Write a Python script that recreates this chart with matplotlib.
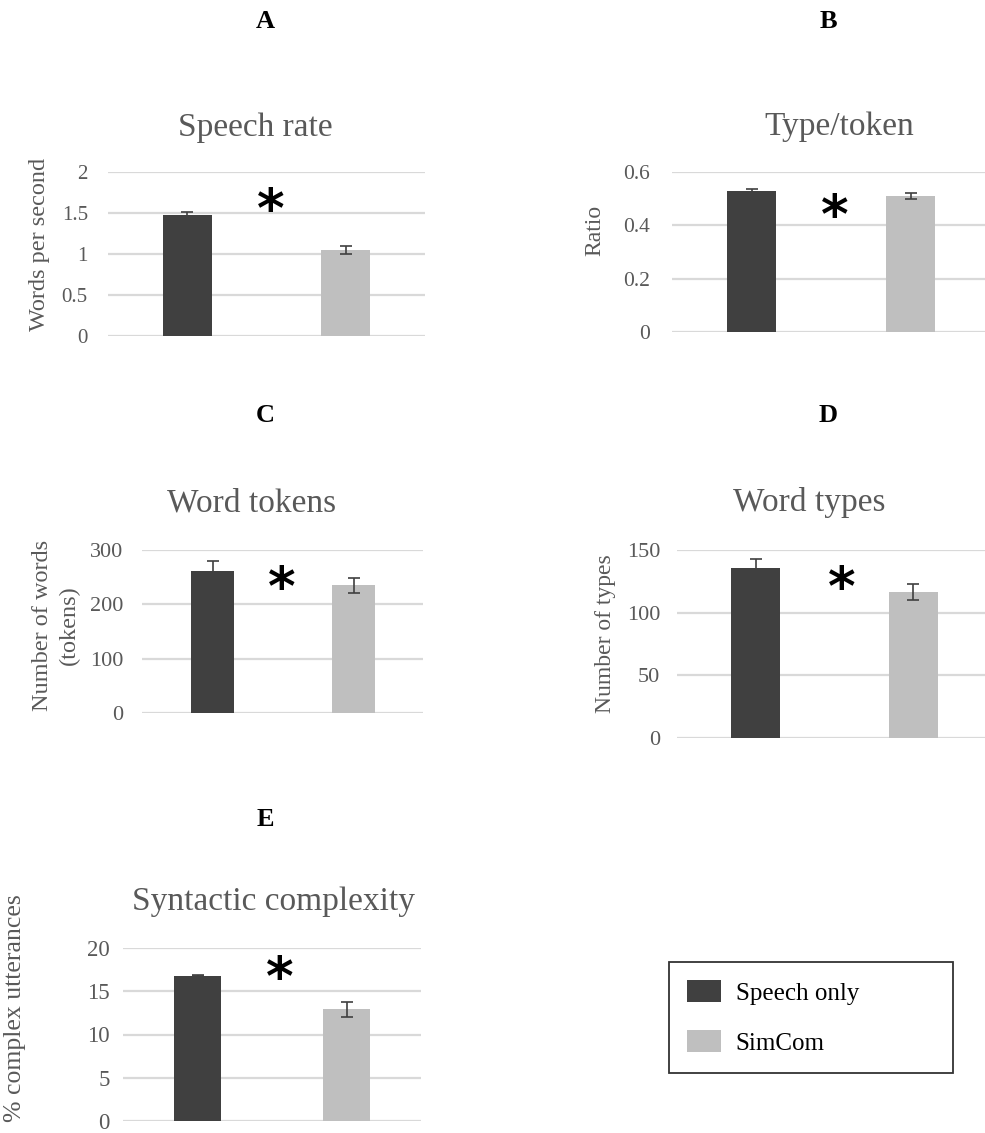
import matplotlib
matplotlib.use("Agg")
import matplotlib.pyplot as plt
from matplotlib.patches import Patch
from matplotlib.ticker import FuncFormatter

plt.rcParams['font.family'] = ['Liberation Serif', 'DejaVu Serif']

# ---- data ----
groups = ["Speech only", "SimCom"]
titles = ["Speech rate", "Type/token", "Word tokens", "Word types", "Syntactic complexity"]
letters = ["A", "B", "C", "D", "E"]
ylabels = ["Words per second", "Ratio", "Number of words\n(tokens)", "Number of types",
           "% complex utterances"]

speech_rate = [1.47, 1.05]
speech_rate_err = [0.04, 0.045]
type_token = [0.53, 0.51]
type_token_err = [0.008, 0.01]
word_tokens = [262, 235]
word_tokens_err = [17, 14]
word_types = [135.5, 116.5]
word_types_err = [7.7, 6.0]
syntactic = [16.8, 12.9]
syntactic_err = [0.05, 0.9]

yticks_A = [0, 0.5, 1, 1.5, 2]
yticks_B = [0, 0.2, 0.4, 0.6]
yticks_C = [0, 100, 200, 300]
yticks_D = [0, 50, 100, 150]
yticks_E = [0, 5, 10, 15, 20]

# asterisk centre height (data units) per panel
star_y = [1.66, 0.476, 250, 128, 17.8]

values = [speech_rate, type_token, word_tokens, word_types, syntactic]
errors = [speech_rate_err, type_token_err, word_tokens_err, word_types_err, syntactic_err]
yticks = [yticks_A, yticks_B, yticks_C, yticks_D, yticks_E]

colors = ["#404040", "#bfbfbf"]
grid_c = "#d9d9d9"
txt_c = "#595959"

W, H = 985, 1133
fig = plt.figure(figsize=(W / 100, H / 100), dpi=100)


def fx(x):
    return x / W


def fy(y):
    return 1 - y / H


# layout in pixels: left, right, top(ymax), bottom(0), slot width, tick pad
boxes = [(108, 425, 172, 336, 158.5, 14.5),
         (672, 985, 172, 332, 159.0, 16),
         (142, 423, 550, 713, 141.0, 13.5),
         (677, 985, 550, 738, 157.5, 12),
         (123, 421, 948, 1121, 149.0, 9.5)]
tick_fs = [15, 15.5, 16, 16, 16.5]
ylab_fs = [17.5, 17, 17.5, 17, 18.5]
# title (x, y), letter (x, y), ylabel (x, y), asterisk x
title_pos = [(255, 128), (839, 127), (252, 503), (809, 503), (273, 902)]
letter_pos = [(265, 22), (828, 22), (265, 415), (828, 415), (265, 820)]
ylab_pos = [(40, 244), (595, 230), (56, 625), (605, 634), (15, 1008)]
star_x = [271, 835, 282, 842, 280]

for i in range(5):
    l, r, t, b, slot, pad = boxes[i]
    ax = fig.add_axes([fx(l), fy(b), fx(r) - fx(l), fy(t) - fy(b)])
    x = [0, 1]
    ax.bar(x, values[i], width=0.31, color=colors, zorder=3)
    ax.errorbar(x, values[i], yerr=errors[i], fmt='none', ecolor="#404040",
                elinewidth=1.2, capsize=4.5, capthick=1.2, zorder=4)
    ax.hlines(yticks[i], -0.5, 2, colors=grid_c, lw=1.6, zorder=1)
    ax.set_xlim(-0.5, (r - l) / slot - 0.5)
    ax.set_ylim(0, yticks[i][-1])
    ax.set_yticks(yticks[i])
    ax.yaxis.set_major_formatter(FuncFormatter(lambda v, p: "%g" % v))
    ax.set_xticks([])
    ax.tick_params(axis='y', length=0, pad=pad, labelsize=tick_fs[i], labelcolor=txt_c)
    for s in ax.spines.values():
        s.set_visible(False)
    # asterisk (glyph sits high in its line box, so nudge it down)
    sx = -0.5 + (star_x[i] - l) / slot
    ax.annotate("*", (sx, star_y[i]), xytext=(0, -9), textcoords='offset points',
                ha='center', va='center', fontsize=38, fontweight='bold',
                family='DejaVu Sans', color='black', zorder=5, annotation_clip=False)

    fig.text(fx(title_pos[i][0]), fy(title_pos[i][1]), titles[i], ha='center',
             va='center', fontsize=24, color=txt_c)
    fig.text(fx(letter_pos[i][0]), fy(letter_pos[i][1]), letters[i], ha='center',
             va='center', fontsize=19, fontweight='bold', color='black')
    fig.text(fx(ylab_pos[i][0]), fy(ylab_pos[i][1]), ylabels[i], ha='center',
             va='center', rotation=90, fontsize=ylab_fs[i], color=txt_c, linespacing=1.35)

handles = [Patch(facecolor=colors[0], edgecolor='none', label=groups[0]),
           Patch(facecolor=colors[1], edgecolor='none', label=groups[1])]
leg = fig.legend(handles=handles, loc='upper left', mode='expand',
                 bbox_to_anchor=(fx(669), fy(1072), fx(953) - fx(669), fy(962) - fy(1072)),
                 frameon=True, fancybox=False, fontsize=18, handlelength=1.35,
                 handleheight=1.0, labelspacing=1.0, borderpad=0.72, handletextpad=0.6,
                 borderaxespad=0)
leg.get_frame().set_edgecolor('black')
leg.get_frame().set_linewidth(1.3)

fig.savefig("out.png", dpi=100)
